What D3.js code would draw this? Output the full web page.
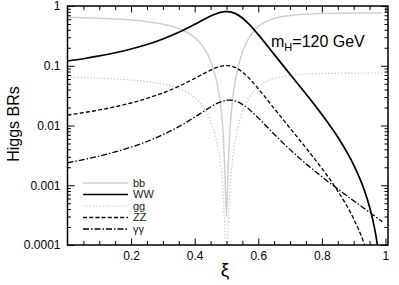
<!DOCTYPE html>
<html><head><meta charset="utf-8">
<script src="https://cdn.jsdelivr.net/npm/d3@7/dist/d3.min.js"></script>
<style>
html,body{margin:0;padding:0;background:#fff;}
svg{display:block;font-family:"Liberation Sans",Arial,Helvetica,sans-serif;}
</style></head>
<body><svg id="c" width="399" height="285"></svg>
<script>
// ---- data ----
const xi = [0, 0.05, 0.1, 0.15, 0.2, 0.25, 0.3, 0.35, 0.4, 0.43, 0.45, 0.47, 0.48, 0.49, 0.495, 0.5, 0.505, 0.51, 0.52, 0.53, 0.55, 0.57, 0.6, 0.65, 0.7, 0.75, 0.8, 0.85, 0.9, 0.93, 0.95, 0.96, 0.97, 0.98, 0.99];
const brBB = [0.649, 0.638, 0.624, 0.606, 0.581, 0.547, 0.497, 0.419, 0.296, 0.196, 0.121, 0.0521, 0.0250, 0.0067, 0.0017, 0.0003, 0.0018, 0.0072, 0.0292, 0.0651, 0.168, 0.288, 0.449, 0.616, 0.694, 0.730, 0.747, 0.756, 0.760, 0.761, 0.761, 0.761, 0.762, 0.762, 0.762];
const brWW = [0.120, 0.131, 0.146, 0.165, 0.191, 0.227, 0.281, 0.363, 0.493, 0.599, 0.678, 0.751, 0.780, 0.800, 0.805, 0.807, 0.805, 0.799, 0.776, 0.738, 0.629, 0.502, 0.332, 0.155, 0.0721, 0.0337, 0.0153, 0.00641, 0.00219, 0.00093, 0.000434, 0.000266, 0.000143, 0.0000611, 0.000015];
const brGG = [0.0644, 0.0633, 0.0619, 0.0601, 0.0577, 0.0543, 0.0493, 0.0416, 0.0294, 0.0194, 0.0120, 0.00517, 0.00248, 0.00066, 0.00017, 0.00003, 0.00018, 0.00072, 0.00289, 0.00646, 0.0167, 0.0286, 0.0445, 0.0611, 0.0688, 0.0724, 0.0741, 0.0750, 0.0754, 0.0755, 0.0755, 0.0756, 0.0756, 0.0756, 0.0756];
const brZZ = [0.01495, 0.0164, 0.0182, 0.0206, 0.0238, 0.0284, 0.0351, 0.0453, 0.0615, 0.0748, 0.0846, 0.0938, 0.0974, 0.0998, 0.1004, 0.1007, 0.1004, 0.0997, 0.0968, 0.0921, 0.0785, 0.0626, 0.0414, 0.0193, 0.0090, 0.00421, 0.00191, 0.00080, 0.000274, 0.000116, 0.0000542, 0.000033, 0.0000179, 0.0000076, 0.0000018];
const brAA = [0.00238, 0.00268, 0.00308, 0.00361, 0.00435, 0.00540, 0.00701, 0.00957, 0.0138, 0.0175, 0.0204, 0.0234, 0.0247, 0.0257, 0.0261, 0.0264, 0.0266, 0.0266, 0.0263, 0.0255, 0.0226, 0.0189, 0.0134, 0.00716, 0.00395, 0.00229, 0.00139, 0.000865, 0.000550, 0.000421, 0.000352, 0.000322, 0.000295, 0.000269, 0.000246];
const seriesNames = ["bb", "WW", "gg", "ZZ", "γγ"];
const xTickValues = [0.2, 0.4, 0.6, 0.8, 1];
const xTickLabels = ["0.2", "0.4", "0.6", "0.8", "1"];
const yTickValues = [1, 0.1, 0.01, 0.001, 0.0001];
const yTickLabels = ["1", "0.1", "0.01", "0.001", "0.0001"];
const xAxisTitle = "ξ";
const yAxisTitle = "Higgs BRs";

// ---- layout ----
const L = 67.5, R = 388, T = 6, B = 245;
const svg = d3.select("#c");
const x = d3.scaleLinear().domain([0, 1.008]).range([L, R]);
const y = d3.scaleLog().domain([0.0001, 1]).range([B, T]);

const styles = [
  {stroke: "#cfcfcf", width: 1.5, dash: null},
  {stroke: "#000", width: 1.7, dash: null},
  {stroke: "#c4c4c4", width: 1.2, dash: "1.3,2"},
  {stroke: "#000", width: 1.3, dash: "4,2.2"},
  {stroke: "#000", width: 1.3, dash: "6,2,1.5,2"}
];
const allSeries = [brBB, brWW, brGG, brZZ, brAA];

svg.append("defs").append("clipPath").attr("id", "clip")
  .append("rect").attr("x", L).attr("y", T).attr("width", R - L).attr("height", B - T);

const line = d3.line().x(d => x(d[0])).y(d => y(Math.max(d[1], 1e-7))).curve(d3.curveMonotoneX);
const g = svg.append("g").attr("clip-path", "url(#clip)");
allSeries.forEach((s, i) => {
  g.append("path").datum(xi.map((v, j) => [v, s[j]]))
    .attr("d", line).attr("fill", "none")
    .attr("stroke", styles[i].stroke).attr("stroke-width", styles[i].width)
    .attr("stroke-dasharray", styles[i].dash);
});

// minor ticks
const yMinor = [];
[0.0001, 0.001, 0.01, 0.1].forEach(d => { for (let k = 2; k <= 9; k++) yMinor.push(d * k); });
const xMinor = d3.range(0.05, 1.001, 0.05).filter(v => Math.abs(v / 0.2 - Math.round(v / 0.2)) > 1e-6);

function ax(gen, tr, vals, size, fmt, pad) {
  const a = svg.append("g").attr("transform", tr)
    .call(gen.tickValues(vals).tickSize(size).tickPadding(pad || 3).tickFormat(fmt));
  a.select(".domain").remove();
  a.selectAll("line").attr("stroke", "#000").attr("stroke-width", 1);
  a.selectAll("text").attr("font-size", 12).attr("fill", "#000")
    .attr("font-family", "'Liberation Sans',Arial,Helvetica,sans-serif");
  return a;
}
const none = () => "";
// left
ax(d3.axisLeft(y), `translate(${L},0)`, yTickValues, -7, (d, i) => yTickLabels[i], 7);
ax(d3.axisLeft(y), `translate(${L},0)`, yMinor, -3.5, none);
// right
ax(d3.axisRight(y), `translate(${R},0)`, yTickValues, -7, none);
ax(d3.axisRight(y), `translate(${R},0)`, yMinor, -3.5, none);
// bottom
ax(d3.axisBottom(x), `translate(0,${B})`, xTickValues, -6.5, (d, i) => xTickLabels[i], 6);
ax(d3.axisBottom(x), `translate(0,${B})`, xMinor, -4, none);
// top
ax(d3.axisTop(x), `translate(0,${T})`, xTickValues, -6.5, none);
ax(d3.axisTop(x), `translate(0,${T})`, xMinor, -4, none);

svg.append("rect").attr("x", L).attr("y", T).attr("width", R - L).attr("height", B - T)
  .attr("fill", "none").attr("stroke", "#000").attr("stroke-width", 1.5);

// axis titles
svg.append("text").attr("transform", "translate(19,124) rotate(-90)")
  .attr("text-anchor", "middle").attr("font-size", 16).attr("fill", "#000").text(yAxisTitle);
svg.append("text").attr("x", 225).attr("y", 276).attr("text-anchor", "middle")
  .attr("font-size", 19).attr("fill", "#000").text(xAxisTitle);

// annotation
const ann = svg.append("text").attr("x", 271).attr("y", 47).attr("font-size", 16).attr("fill", "#000");
ann.append("tspan").text("m");
ann.append("tspan").attr("font-size", 11).attr("dy", 4).text("H");
ann.append("tspan").attr("dy", -4).text("=120 GeV");

// legend
const legY = [183, 194.5, 206, 217.5, 229];
seriesNames.forEach((n, i) => {
  svg.append("line").attr("x1", 83).attr("x2", 128).attr("y1", legY[i]).attr("y2", legY[i])
    .attr("stroke", styles[i].stroke).attr("stroke-width", styles[i].width)
    .attr("stroke-dasharray", styles[i].dash);
  svg.append("text").attr("x", 133).attr("y", legY[i] + 3.8).attr("font-size", 11)
    .attr("fill", "#222").text(n);
});
</script></body></html>
